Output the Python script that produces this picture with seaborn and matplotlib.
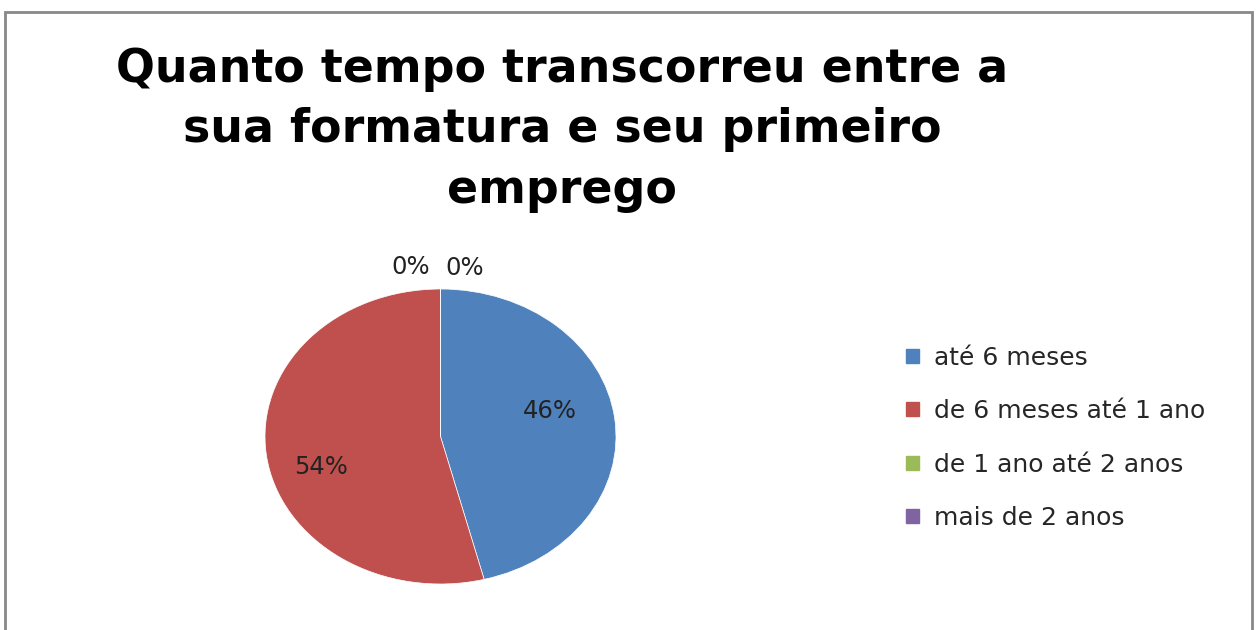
import matplotlib
matplotlib.use("Agg")
import matplotlib.pyplot as plt
from matplotlib.patches import Rectangle
import seaborn as sns

# data
categories = ["até 6 meses", "de 6 meses até 1 ano", "de 1 ano até 2 anos", "mais de 2 anos"]
values = [46, 54, 0, 0]
colors = ["#4F81BD", "#C0504D", "#9BBB59", "#8064A2"]
title = "Quanto tempo transcorreu entre a\nsua formatura e seu primeiro\nemprego"

sns.set_theme(style="white")
plt.rcParams["font.family"] = ["DejaVu Sans"]
palette = sns.color_palette(colors)

fig = plt.figure(figsize=(12.57, 6.3), dpi=100)
ax = fig.add_axes([265 / 1257, 46 / 630, 351 / 1257, 295 / 630])

wedges, texts, autotexts = ax.pie(
    values, colors=palette, startangle=90, counterclock=False,
    autopct="%1.0f%%", pctdistance=0.68,
    wedgeprops=dict(linewidth=0.5, edgecolor="white"),
    textprops=dict(fontsize=17.5, color="#222222"),
)
ax.set_aspect("auto")
ax.set_xlim(-1, 1)
ax.set_ylim(-1, 1)

# Excel-style label placement (zero slices sit above the pie)
label_pos = [(0.625, 0.17), (-0.68, -0.21), (-0.17, 1.15), (0.14, 1.14)]
for t, p in zip(autotexts, label_pos):
    t.set_position(p)

fig.text(0.447, 0.794, title, ha="center", va="center", fontsize=33,
         fontweight="bold", linespacing=1.45, color="black")

handles = [Rectangle((0, 0), 1, 1, color=c) for c in palette]
fig.legend(handles, categories, loc="center left", bbox_to_anchor=(0.703, 0.305),
           frameon=False, fontsize=18, handlelength=0.5, handleheight=0.5,
           handletextpad=0.6, labelspacing=1.18)

# chart frame
fig.patches.append(Rectangle((5 / 1257, -0.05), 1247 / 1257, 1.05 - 12 / 630,
                             transform=fig.transFigure, fill=False,
                             edgecolor="#888888", linewidth=2))

fig.savefig("out.png", dpi=100, facecolor="white")
